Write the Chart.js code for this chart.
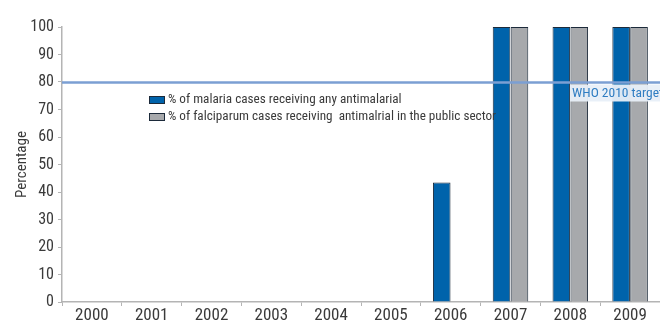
<!DOCTYPE html>
<html>
<head>
<meta charset="utf-8">
<script src="https://cdn.jsdelivr.net/npm/chart.js@4/dist/chart.umd.min.js"></script>
<style>
  html, body { margin: 0; padding: 0; background: #fff; }
  #wrap { width: 660px; height: 322px; }
</style>
</head>
<body>
<div id="wrap"><canvas id="malariaChart" width="660" height="322"></canvas></div>
<script>
/* Data */
const years = ['2000', '2001', '2002', '2003', '2004', '2005', '2006', '2007', '2008', '2009'];
const anyAntimalarial = [null, null, null, null, null, null, 43.5, 100, 100, 100];
const falciparumPublic = [null, null, null, null, null, null, null, 100, 100, 100];
const yTicks = [0, 10, 20, 30, 40, 50, 60, 70, 80, 90, 100];
const targetValue = 80;
const targetLabel = 'WHO 2010 target';

const FONT = "'Roboto Condensed', 'DejaVu Sans Condensed', sans-serif";
const TEXT = '#3a3a3a';
const AXIS = '#b4b4b4';

/**
 * Target line, its label and the in-plot legend
 */
const overlayPlugin = {
    id: 'overlay',
    afterDatasetsDraw(chart) {
        const { ctx, chartArea, scales } = chart;
        const y = Math.round(scales.y.getPixelForValue(targetValue)) + 0.5;

        ctx.save();
        ctx.strokeStyle = '#7b9fd3';
        ctx.lineWidth = 2.5;
        ctx.beginPath();
        ctx.moveTo(chartArea.left, y);
        ctx.lineTo(chart.width, y);
        ctx.stroke();

        // target label box
        ctx.font = '13.5px ' + FONT;
        const tw = ctx.measureText(targetLabel).width;
        const bx = 570;
        ctx.fillStyle = 'rgba(232, 239, 248, 0.95)';
        ctx.fillRect(bx, y + 2, tw + 6, 17);
        ctx.fillStyle = '#2f7dc2';
        ctx.textBaseline = 'middle';
        ctx.fillText(targetLabel, bx + 2, y + 11);

        // legend
        ctx.font = '13.2px ' + FONT;
        chart.data.datasets.forEach((ds, i) => {
            const ly = 100 + i * 17;
            ctx.fillStyle = ds.backgroundColor;
            ctx.fillRect(149.5, ly - 3.5, 15, 7);
            ctx.strokeStyle = '#1c2a3a';
            ctx.lineWidth = 1;
            ctx.strokeRect(149.5, ly - 3.5, 15, 7);
            ctx.fillStyle = TEXT;
            ctx.textBaseline = 'middle';
            ctx.fillText(ds.label, 168, ly);
        });
        ctx.restore();
    }
};

const ctx = document.getElementById('malariaChart').getContext('2d');

new Chart(ctx, {
    type: 'bar',
    data: {
        labels: years,
        datasets: [
            {
                label: '% of malaria cases receiving any antimalarial',
                data: anyAntimalarial,
                backgroundColor: '#0063ab',
                borderColor: '#1c2a3a',
                borderWidth: 1,
                categoryPercentage: 0.6,
                barPercentage: 0.98
            },
            {
                label: '% of falciparum cases receiving  antimalrial in the public sector',
                data: falciparumPublic,
                backgroundColor: '#a7a9ac',
                borderColor: '#1c2a3a',
                borderWidth: 1,
                categoryPercentage: 0.6,
                barPercentage: 0.98
            }
        ]
    },
    options: {
        responsive: false,
        devicePixelRatio: 1,
        animation: false,
        layout: { padding: { top: 27, right: 0, left: 0, bottom: 0 } },
        plugins: {
            legend: { display: false },
            tooltip: { enabled: false }
        },
        scales: {
            x: {
                grid: {
                    offset: true,
                    drawOnChartArea: false,
                    drawTicks: true,
                    tickLength: 4,
                    color: AXIS
                },
                border: { color: AXIS, width: 1.5 },
                ticks: {
                    color: TEXT,
                    font: { family: FONT, size: 17 },
                    padding: 0,
                    maxRotation: 0
                },
                afterFit(scale) { scale.height = 20; }
            },
            y: {
                min: 0,
                max: 100,
                afterBuildTicks(scale) {
                    scale.ticks = yTicks.map(v => ({ value: v }));
                },
                grid: {
                    drawOnChartArea: false,
                    drawTicks: true,
                    tickLength: 4,
                    color: AXIS
                },
                border: { color: AXIS, width: 1.5 },
                ticks: {
                    color: TEXT,
                    font: { family: FONT, size: 16 },
                    padding: 4
                },
                title: {
                    display: true,
                    text: 'Percentage',
                    color: TEXT,
                    font: { family: FONT, size: 15 },
                    padding: { top: 13, bottom: 0 }
                },
                afterFit(scale) { scale.width = 62; }
            }
        }
    },
    plugins: [overlayPlugin]
});
</script>
</body>
</html>
